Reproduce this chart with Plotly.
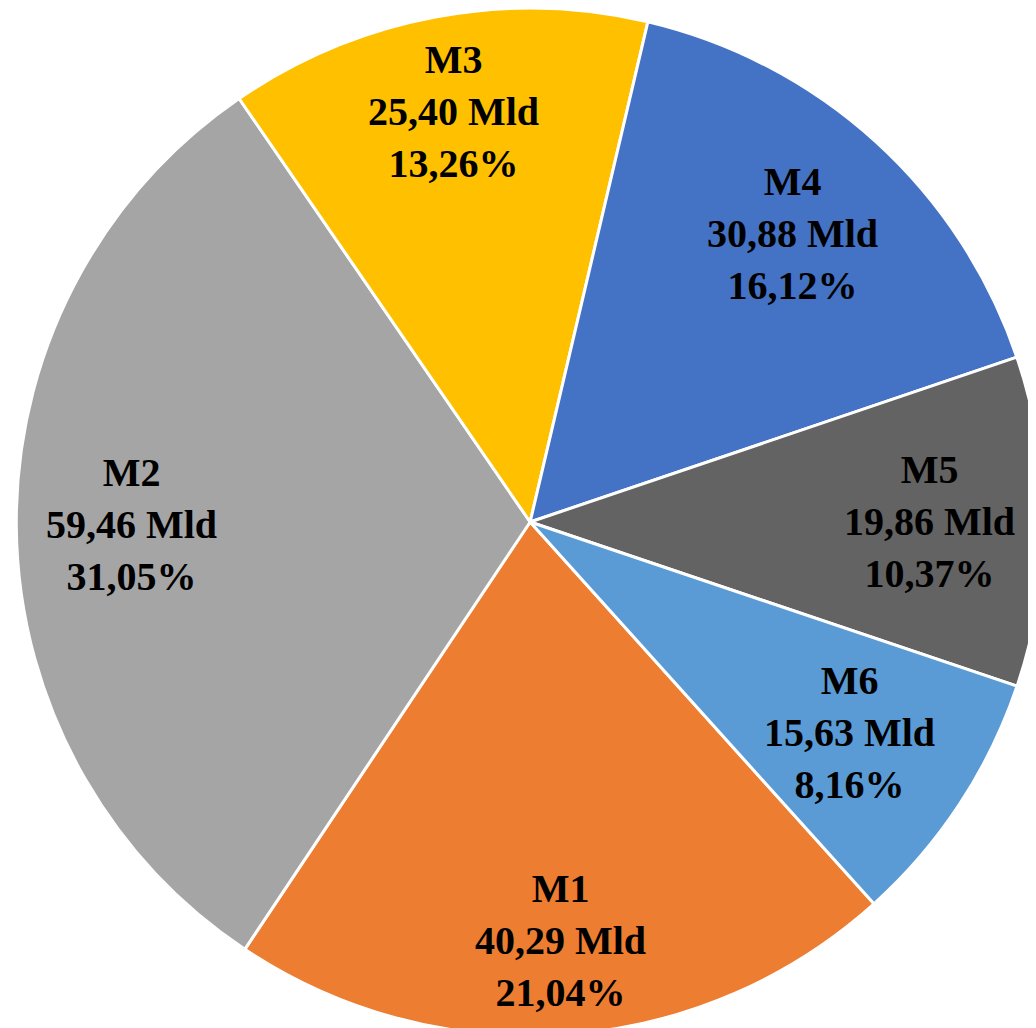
import math
import plotly.graph_objects as go

categories = ["M1", "M2", "M3", "M4", "M5", "M6"]
values = [40.29, 59.46, 25.40, 30.88, 19.86, 15.63]
colors = ["#ED7D31", "#A5A5A5", "#FFC000", "#4472C4", "#636363", "#5B9BD5"]

W, H = 1036, 1028
dom_x = [0.008, 1.0]
dom_y = [0.0, 1.0]
cx = (dom_x[0] + dom_x[1]) / 2 * W
cy = (1 - (dom_y[0] + dom_y[1]) / 2) * H
R = 506
rotation = 138.0                    # start angle of M1, clockwise from 12 o'clock
label_r = [0.83, 0.787, 0.825, 0.77, 0.79, 0.756]  # radial label placement

total = sum(values)

def fmt(v, d=2):
    return f"{v:.{d}f}".replace(".", ",")

fig = go.Figure(go.Pie(
    labels=categories,
    values=values,
    sort=False,
    direction="clockwise",
    rotation=rotation,
    marker=dict(colors=colors, line=dict(color="white", width=3)),
    textinfo="none",
    hoverinfo="label+value+percent",
    domain=dict(x=dom_x, y=dom_y),
    showlegend=False,
))

ang = rotation
for cat, v, rf in zip(categories, values, label_r):
    span = v / total * 360
    mid = math.radians(ang + span / 2)
    ang += span
    px = cx + rf * R * math.sin(mid)
    py = cy - rf * R * math.cos(mid)
    fig.add_annotation(
        x=px / W, y=1 - py / H, xref="paper", yref="paper",
        xanchor="center", yanchor="middle", showarrow=False,
        text=f"{cat}<br>{fmt(v)} Mld<br>{fmt(v / total * 100)}%",
        font=dict(family="Times New Roman, Liberation Serif, DejaVu Serif, serif",
                  size=40, color="black", weight="bold"),
        align="center",
    )

fig.update_layout(
    width=W, height=H,
    margin=dict(l=0, r=0, t=0, b=0),
    paper_bgcolor="white", plot_bgcolor="white",
)

fig.write_html("out.html")
